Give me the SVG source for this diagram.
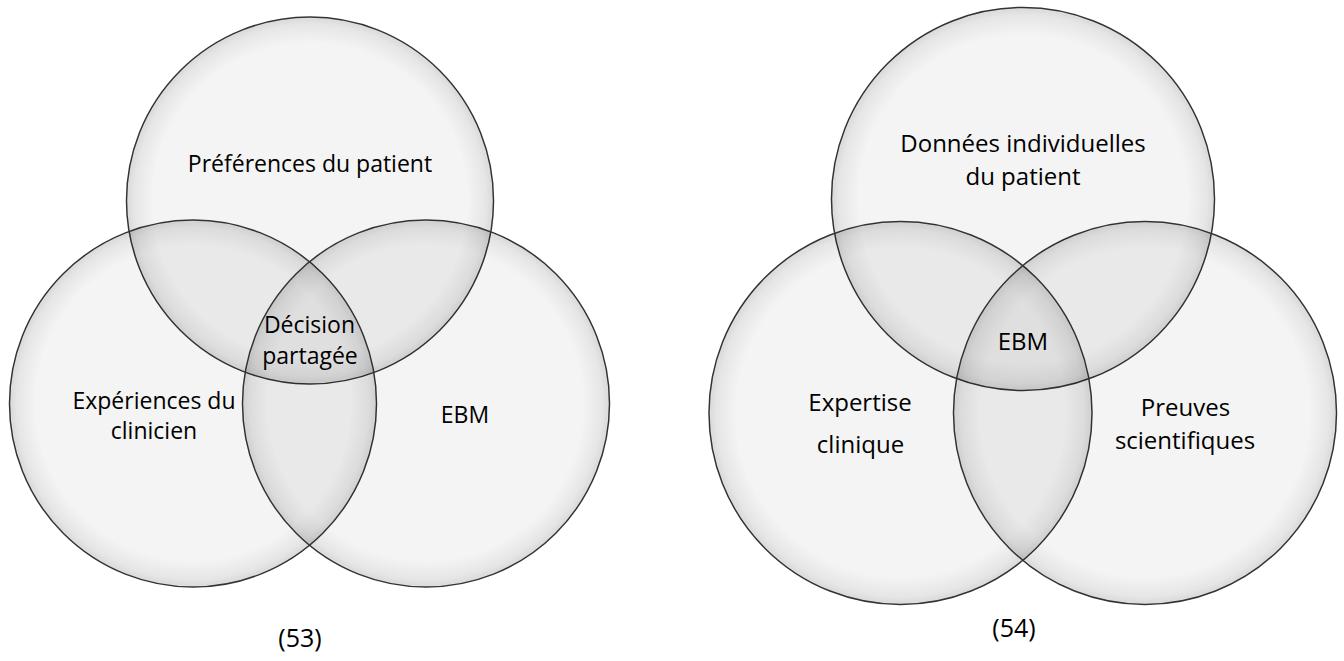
<svg xmlns="http://www.w3.org/2000/svg" width="1344" height="661" viewBox="0 0 1344 661">
  <style>
    .c { fill: url(#shade); stroke: #333; stroke-width: 1.5; }
    .t { font-family: "Open Sans", "Liberation Sans", sans-serif; fill: #000; text-anchor: middle; }
    .s1 { font-size: 23px; }
    .s2 { font-size: 24px; }
    .cap { font-size: 25px; }
  </style>
  <defs>
    <radialGradient id="shade" cx="50%" cy="50%" r="50%">
      <stop offset="0" stop-color="#000" stop-opacity="0.045"/>
      <stop offset="0.86" stop-color="#000" stop-opacity="0.045"/>
      <stop offset="0.96" stop-color="#000" stop-opacity="0.10"/>
      <stop offset="0.99" stop-color="#000" stop-opacity="0.14"/>
      <stop offset="1" stop-color="#000" stop-opacity="0.08"/>
    </radialGradient>
  </defs>
  <rect width="1344" height="661" fill="#fff"/>

  <!-- Diagram (53) -->
  <g id="d53-preferences">
    <circle class="c" cx="310" cy="200.5" r="183.5"/>
    <text class="t s1" x="310" y="171.5">Préférences du patient</text>
  </g>
  <g id="d53-experiences">
    <circle class="c" cx="193" cy="403.5" r="183.5"/>
    <text class="t s1" x="154" y="409">Expériences du</text>
    <text class="t s1" x="154" y="438.5">clinicien</text>
  </g>
  <g id="d53-ebm">
    <circle class="c" cx="426" cy="403.5" r="183.5"/>
    <text class="t s1" x="465" y="423">EBM</text>
  </g>
  <g id="d53-decision">
    <text class="t s1" x="309.5" y="332.5">Décision</text>
    <text class="t s1" x="310" y="363.5">partagée</text>
  </g>
  <text class="t cap" x="300" y="647">(53)</text>

  <!-- Diagram (54) -->
  <g id="d54-donnees">
    <circle class="c" cx="1023" cy="199" r="191.5"/>
    <text class="t s2" x="1023" y="152">Données individuelles</text>
    <text class="t s2" x="1023" y="185">du patient</text>
  </g>
  <g id="d54-expertise">
    <circle class="c" cx="900.5" cy="413" r="191.5"/>
    <text class="t s2" x="860" y="411">Expertise</text>
    <text class="t s2" x="860.5" y="453">clinique</text>
  </g>
  <g id="d54-preuves">
    <circle class="c" cx="1145" cy="413" r="191.5"/>
    <text class="t s2" x="1185.5" y="416">Preuves</text>
    <text class="t s2" x="1185" y="449">scientifiques</text>
  </g>
  <g id="d54-ebm">
    <text class="t s2" x="1023" y="349.5">EBM</text>
  </g>
  <text class="t cap" x="1014" y="637">(54)</text>
</svg>
